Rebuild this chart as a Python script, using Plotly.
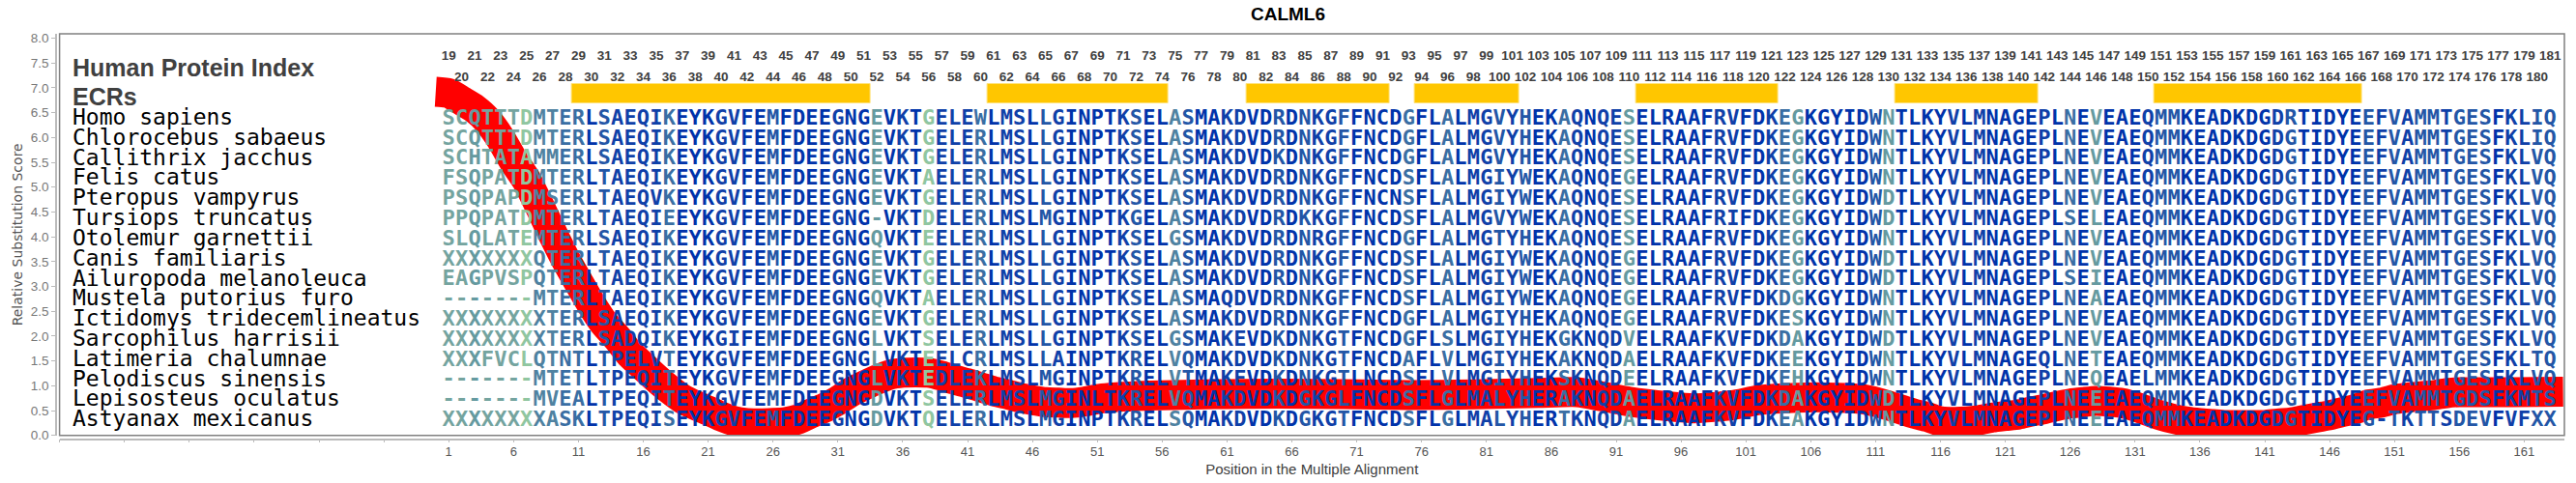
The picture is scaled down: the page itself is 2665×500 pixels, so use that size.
import plotly.graph_objects as go

title_text = "CALML6"
species = [
    "Homo sapiens", "Chlorocebus sabaeus", "Callithrix jacchus", "Felis catus",
    "Pteropus vampyrus", "Tursiops truncatus", "Otolemur garnettii", "Canis familiaris",
    "Ailuropoda melanoleuca", "Mustela putorius furo", "Ictidomys tridecemlineatus",
    "Sarcophilus harrisii", "Latimeria chalumnae", "Pelodiscus sinensis",
    "Lepisosteus oculatus", "Astyanax mexicanus",
]
sequences = [
    "SCQTTTDMTERLSAEQIKEYKGVFEMFDEEGNGEVKTGELEWLMSLLGINPTKSELASMAKDVDRDNKGFFNCDGFLALMGVYHEKAQNQESELRAAFRVFDKEGKGYIDWNTLKYVLMNAGEPLNEVEAEQMMKEADKDGDRTIDYEEFVAMMTGESFKLIQ",
    "SCQTTTDMTERLSAEQIKEYKGVFEMFDEEGNGEVKTGELERLMSLLGINPTKSELASMAKDVDRDNKGFFNCDGFLALMGVYHEKAQNQESELRAAFRVFDKEGKGYIDWNTLKYVLMNAGEPLNEVEAEQMMKEADKDGDGTIDYEEFVAMMTGESFKLIQ",
    "SCHTATAMMERLSAEQIKEYKGVFEMFDEEGNGEVKTGELERLMSLLGINPTKSELASMAKDVDKDNKGFFNCDGFLALMGVYHEKAQNQESELRAAFRVFDKEGKGYIDWNTLKYVLMNAGEPLNEVEAEQMMKEADKDGDGTIDYEEFVAMMTGESFKLVQ",
    "FSQPATDMTERLTAEQIKEYKGVFEMFDEEGNGEVKTAELERLMSLLGINPTKSELASMAKDVDRDNKGFFNCDSFLALMGIYWEKAQNQEGELRAAFRVFDKEGKGYIDWNTLKYVLMNAGEPLNEVEAEQMMKEADKDGDGTIDYEEFVAMMTGESFKLVQ",
    "PSQPAPDMSERLTAEQVKEYKGVFEMFDEEGNGEVKTGELERLMSLLGINPTKSELASMAKDVDRDNKGFFNCNSFLALMGIYWEKAQNQESELRAAFRVFDKEGKGYIDWDTLKYVLMNAGEPLNEVEAEQMMKEADKDGDGTIDYEEFVAMMTGESFKLVQ",
    "PPQPATDMTERLTAEQIEEYKGVFEMFDEEGNG-VKTDELERLMSLMGINPTKGELASMAKDVDRDKKGFFNCDSFLALMGVYWEKAQNQESELRAAFRIFDKEGKGYIDWDTLKYVLMNAGEPLSELEAEQMMKEADKDGDGTIDYEEFVAMMTGESFKLVQ",
    "SLQLATEMTERLSAEQIKEYKGVFEMFDEEGNGQVKTEELERLMSLLGINPTKSELGSMAKDVDRDNRGFFNCDGFLALMGTYHEKAQNQESELRAAFRVFDKEGKGYIDWNTLKYVLMNAGEPLNEVEAEQMMKEADKDGDGTIDYEEFVAMMTGESFKLVQ",
    "XXXXXXXQTERLTAEQIKEYKGVFEMFDEEGNGEVKTGELERLMSLLGINPTKSELASMAKDVDRDNKGFFNCDSFLALMGIYWEKAQNQEGELRAAFRVFDKEGKGYIDWDTLKYVLMNAGEPLNEVEAEQMMKEADKDGDGTIDYEEFVAMMTGESFKLVQ",
    "EAGPVSPQTERLTAEQIKEYKGVFEMFDEEGNGEVKTGELERLMSLLGINPTKSELASMAKDVDRDNKGFFNCDSFLALMGIYWEKAQNQEGELRAAFRVFDKEGKGYIDWDTLKYVLMNAGEPLSEIEAEQMMKEADKDGDGTIDYEEFVAMMTGESFKLVQ",
    "-------MTERLTAEQIKEYKGVFEMFDEEGNGQVKTAELERLMSLLGINPTKSELASMAQDVDRDNKGFFNCDSFLALMGIYWEKAQNQEGELRAAFRVFDKDGKGYIDWNTLKYVLMNAGEPLNEAEAEQMMKEADKDGDGTIDYEEFVAMMTGESFKLVQ",
    "XXXXXXXXTERLSAEQIKEYKGVFEMFDEEGNGEVKTGELERLMSLLGINPTKSELASMAKDVDRDNKGFFNCDGFLALMGIYHEKAQNQEGELRAAFRVFDKESKGYIDWNTLKYVLMNAGEPLNEVEAEQMMKEADKDGDGTIDYEEFVAMMTGESFKLVQ",
    "XXXXXXXXTERLSADQIKEYKGIFEMFDEEGNGLVKTSELERLMSLLGINPTKSELGSMAKEVDKDNKGTFNCDGFLSLMGIYHEKGKNQDVELRAAFKVFDKDAKGYIDWDTLKYVLMNAGEPLNEVEAEQMMKEADKDGDGTIDYEEFVAMMTGESFKLVQ",
    "XXXFVCLQTNTLTPELVTEYKGVFEMFDEEGNGLVKTEELCRLMSLLAINPTKRELVQMAKDVDKDNKGTFNCDAFLVLMGIYHEKAKNQDAELRAAFKVFDKEEKGYIDWNTLKYVLMNAGEQLNETEAEQMMKEADKDGDGTIDYEEFVAMMTGESFKLTQ",
    "-------MTETLTPEQITEYKGVFEMFDEEGNGLVKTEDLEKLMSLMGINPTKRELVTMAKEVDKDNKGTLNCDSFLVLMGIYHEKSKNQDEELRAAFKVFDKEHKGYIDWNTLKYVLMNAGEPLNEQEAELMMKEADKDGDGTIDYEEFVAMMTGESFKLVQ",
    "-------MVEALTPEQITEYKGVFEMFDEEGNGDVKTSELERLMSLMGINLTKRELVQMAKDVDKDGKGLFNCDSFLGLMALYHERAKNQDAELRAAFKVFDKDAKGYIDWDTLKYVLMNAGEPLNEEEAEQMMKEADKDGDGTIDYEEFVAMMTGDSFKMTS",
    "XXXXXXXXASKLTPEQISEYKGVFEMFDEEGNGDVKTQELERLMSLMGINPTKRELSQMAKDVDKDGKGTFNCDSFLGLMALYHERTKNQDAELRAAFKVFDKEAKGYIDWNTLKYVLMNAGEPLNEEEAEQMMKEADKDGDGTIDYEG-TKTTSDEVFVFXX",
]

column_level = [
    6, 6, 5, 6, 6, 6, 7, 4, 4, 3, 3, 0, 2, 1, 1, 1, 1, 3,
    0, 0, 0, 1, 1, 0, 0, 2, 0, 0, 0, 0, 1, 0, 0,
    5, 0, 1, 0, 7, 1, 1, 1, 3,
    0, 1, 1, 0, 2, 1, 0, 0, 0, 0, 1, 2, 0, 0,
    4, 2, 0, 0, 1, 1,
    0, 0, 2, 0, 2, 1, 1, 2,
    0, 0, 0, 0, 3, 0,
    0, 3, 0, 1, 1, 2, 1, 2, 0, 0, 3, 1, 0, 1, 1, 5,
    0, 0, 0, 0, 0, 0, 1, 1, 0, 0, 1, 3,
    5, 0, 0, 0, 0, 0, 2, 5,
    0, 0, 0, 0, 1, 0, 1, 0, 0, 0, 0,
    1, 0, 3, 0, 5, 0, 0, 0, 1, 2, 2,
    0, 0, 0, 0, 0, 0, 0, 1, 2, 0, 0, 0, 0, 0,
    2, 1, 2, 1, 2, 2, 1, 2, 2, 2, 0, 1, 1, 2, 2,
]
level_colors = ["#0033AA", "#0F40A8", "#2356A6", "#3A6EA3", "#4F82A1", "#659AA0", "#74A49F", "#90C6A0"]

ecr_start = [11, 43, 63, 76, 93, 113, 133]
ecr_end = [33, 56, 73, 83, 103, 123, 148]

rvis_position = [
    0, 1, 2, 3, 4, 5, 6, 7, 8, 9, 10, 11, 12, 13, 14, 15, 16, 17, 18, 19, 20, 21, 22, 23, 24, 25, 26, 27,
    28, 29, 30, 31, 32, 33, 34, 35, 36, 37, 38, 39, 40, 41, 42, 43, 44, 45, 46, 47, 48, 49, 50, 51, 52, 53,
    54, 55, 60, 65, 70, 75, 80, 85, 88, 90, 92, 95, 97, 100, 102, 105, 108, 110, 112, 114, 115, 116, 117,
    118, 119, 120, 121, 122, 123, 124, 125, 126, 127, 128, 129, 130, 131, 132, 133, 134, 135, 136, 137, 138,
    140, 141, 142, 143, 144, 145, 146, 147, 148, 149, 150, 151, 152, 153, 154, 155, 156, 160, 164,
]
rvis_score = [
    6.92, 6.89, 6.74, 6.58, 6.34, 5.98, 5.53, 5.14, 4.62, 4.07, 3.55, 3.09, 2.64, 2.25, 1.96, 1.63, 1.39, 1.15,
    0.93, 0.74, 0.61, 0.50, 0.38, 0.29, 0.25, 0.24, 0.25, 0.27,
    0.33, 0.45, 0.56, 0.70, 0.87, 1.00, 1.12, 1.22, 1.26, 1.27, 1.26, 1.20, 1.12, 1.05, 0.97, 0.89, 0.83, 0.76,
    0.71, 0.67, 0.66, 0.65, 0.68, 0.73, 0.76, 0.78,
    0.79, 0.80, 0.83, 0.84, 0.83, 0.81, 0.825, 0.855, 0.87, 0.78, 0.68, 0.585, 0.545, 0.61, 0.71, 0.76, 0.76,
    0.73, 0.60, 0.435, 0.37, 0.285, 0.27,
    0.28, 0.31, 0.358, 0.39, 0.42, 0.48, 0.53, 0.59, 0.64, 0.67, 0.695, 0.68, 0.65, 0.58, 0.49, 0.40, 0.33,
    0.28, 0.25, 0.23, 0.21,
    0.21, 0.21, 0.24, 0.26, 0.31, 0.36, 0.405, 0.47, 0.53, 0.625, 0.66, 0.73, 0.76, 0.79, 0.81, 0.85, 0.87, 0.87, 0.88,
]
first_row_score = 6.37
row_step = 0.405
x_tick_values = list(range(-29, 162, 5))
x_tick_labels = ["" if v < 1 else str(v) for v in x_tick_values]
y_tick_values = [i * 0.5 for i in range(17)]

assert all(len(s) == 163 for s in sequences), [len(s) for s in sequences]
assert len(column_level) == 163, len(column_level)
assert len(rvis_position) == len(rvis_score), (len(rvis_position), len(rvis_score))

W, H = 2665, 500
L, R, T, B = 61.6, 2653, 35, 450.7
Y_MAX = (B - T) / 51.4
GREY = "#404040"

fig = go.Figure()

# conserved-region bars
fig.add_trace(go.Bar(
    x=[(s + e) / 2 for s, e in zip(ecr_start, ecr_end)],
    y=[0.39] * len(ecr_start), base=[6.69] * len(ecr_start),
    width=[e - s + 1 for s, e in zip(ecr_start, ecr_end)],
    marker=dict(color="#FFC600", line=dict(color="#FFE27A", width=1)),
    hoverinfo="skip",
))

# red score curve
fig.add_trace(go.Scatter(
    x=rvis_position, y=rvis_score, mode="lines",
    line=dict(color="#FF0000", width=31, shape="spline", smoothing=0.6),
    hoverinfo="skip",
))

# residue letters
positions = list(range(1, 164))
colors = [level_colors[k] for k in column_level]
for r, seq in enumerate(sequences):
    yv = first_row_score - r * row_step
    fig.add_trace(go.Scatter(
        x=positions, y=[yv] * 163, mode="text", text=list(seq),
        textposition="middle center",
        textfont=dict(family="DejaVu Sans Mono", size=22, color=colors, weight="bold"),
        hoverinfo="skip", cliponaxis=False,
    ))

# species names
fig.add_trace(go.Scatter(
    x=[-28] * len(species), y=[first_row_score - r * row_step for r in range(len(species))],
    mode="text", text=species, textposition="middle right",
    textfont=dict(family="DejaVu Sans Mono", size=23, color="#000000"),
    hoverinfo="skip",
))

# alignment numbers
numbers = [str(p + 18) for p in positions]
fig.add_trace(go.Scatter(
    x=positions, y=[7.62 if p % 2 else 7.2 for p in positions], mode="text", text=numbers,
    textposition="middle center",
    textfont=dict(family="Liberation Sans", size=13.5, color=GREY, weight="bold"),
    hoverinfo="skip", cliponaxis=False,
))

# panel headings
fig.add_trace(go.Scatter(
    x=[-28, -28], y=[7.36, 6.76], mode="text", text=["Human Protein Index", "ECRs"],
    textposition="middle right",
    textfont=dict(family="Liberation Sans", size=25, color=GREY, weight="bold"),
    hoverinfo="skip",
))

fig.update_layout(
    width=W, height=H, margin=dict(l=0, r=0, t=0, b=0),
    paper_bgcolor="white", plot_bgcolor="white", showlegend=False, bargap=0,
    title=dict(text=title_text, x=0.5, xref="paper", xanchor="center", y=1 - 14 / H, yanchor="middle",
               font=dict(family="Liberation Sans", size=19, color="#000000", weight="bold")),
    xaxis=dict(
        domain=[L / W, R / W], range=[-29, 164.1], anchor="free", position=1 - 454.7 / H,
        showgrid=False, zeroline=False, showline=True, linecolor="#BBBBBB", linewidth=1.5,
        ticks="outside", ticklen=3, tickcolor="#BBBBBB", tickmode="array", ticklabelstandoff=-2,
        tickvals=x_tick_values, ticktext=x_tick_labels, automargin=False,
        tickfont=dict(family="Liberation Sans", size=13, color="#555555"),
        title=dict(text="Position in the Multiple Alignment", standoff=5,
                   font=dict(family="Liberation Sans", size=15, color=GREY)),
    ),
    yaxis=dict(
        domain=[1 - B / H, 1 - T / H], range=[0, Y_MAX], anchor="free", position=58 / W,
        showgrid=False, zeroline=False, showline=True, linecolor="#BBBBBB", linewidth=1.5,
        ticks="outside", ticklen=4, tickcolor="#BBBBBB", tickmode="array",
        tickvals=y_tick_values, ticktext=[f"{v:.1f}" for v in y_tick_values], automargin=False,
        tickfont=dict(family="Liberation Sans", size=13.5, color="#777777"),
        title=dict(text="Relative Substitution Score", standoff=4,
                   font=dict(family="DejaVu Sans", size=14, color="#555555")),
    ),
    shapes=[dict(type="rect", xref="paper", yref="paper", x0=L / W, x1=R / W, y0=1 - B / H, y1=1 - T / H,
                 line=dict(color="#808080", width=1.5), layer="above")],
)

fig.write_html("out.html", config={"displayModeBar": False}, post_script="document.body.style.margin='0';")
